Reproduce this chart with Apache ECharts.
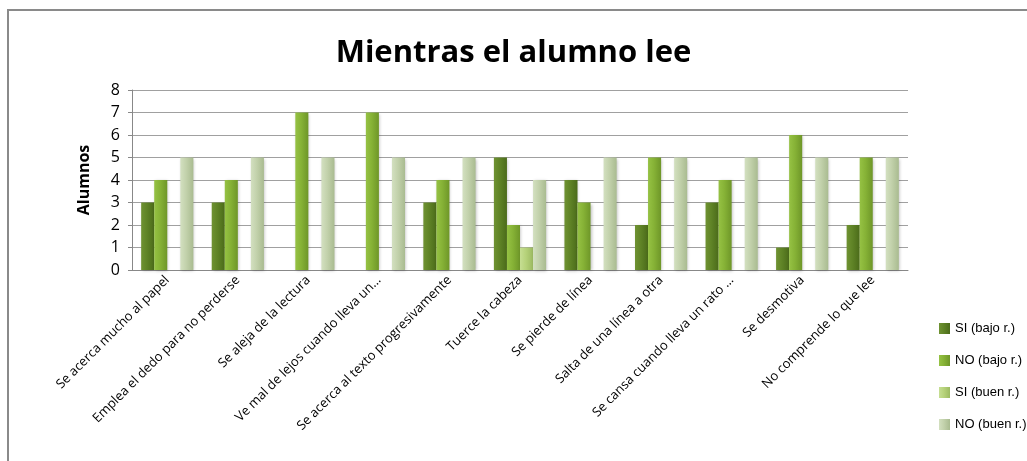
<!DOCTYPE html>
<html>
<head>
<meta charset="utf-8">
<script src="https://cdn.jsdelivr.net/npm/echarts@6/dist/echarts.min.js"></script>
<style>
  html, body { margin: 0; padding: 0; background: #fff; }
  #chart { width: 1027px; height: 461px; }
</style>
</head>
<body>
<div id="chart"></div>
<script>
  // datos
  var categorias = [
    'Se acerca mucho al papel',
    'Emplea el dedo para no perderse',
    'Se aleja de la lectura',
    'Ve mal de lejos cuando lleva un...',
    'Se acerca al texto progresivamente',
    'Tuerce la cabeza',
    'Se pierde de línea',
    'Salta de una línea a otra',
    'Se cansa cuando lleva un rato ...',
    'Se desmotiva',
    'No comprende lo que lee'
  ];
  var siBajo  = [3, 3, 0, 0, 3, 5, 4, 2, 3, 1, 2];
  var noBajo  = [4, 4, 7, 7, 4, 2, 3, 5, 4, 6, 5];
  var siBuen  = [0, 0, 0, 0, 0, 1, 0, 0, 0, 0, 0];
  var noBuen  = [5, 5, 5, 5, 5, 4, 5, 5, 5, 5, 5];
  var nombres = ['SI (bajo r.)', 'NO (bajo r.)', 'SI (buen r.)', 'NO (buen r.)'];
  var yTicks = [0, 8, 1];

  function grad(c1, c2, c3) {
    return new echarts.graphic.LinearGradient(0, 0, 1, 0, [
      { offset: 0, color: c1 },
      { offset: 0.45, color: c2 },
      { offset: 1, color: c3 }
    ]);
  }
  var colores = [
    grad('#6f9232', '#5f8326', '#4b6b1a'),
    grad('#96c244', '#86b236', '#6e9628'),
    grad('#c6de93', '#b6d27a', '#9cba62'),
    grad('#d3e0c0', '#c2d1ab', '#a9bb90')
  ];

  function serie(i, datos) {
    return {
      name: nombres[i],
      type: 'bar',
      data: datos,
      barGap: '0%',
      barCategoryGap: '26%',
      itemStyle: {
        color: colores[i],
        shadowColor: 'rgba(0,0,0,0.25)',
        shadowBlur: 3,
        shadowOffsetX: 1,
        shadowOffsetY: 1
      }
    };
  }

  var myChart = echarts.init(document.getElementById('chart'));
  var option = {
    animation: false,
    textStyle: { fontFamily: 'Open Sans' },
    title: {
      text: 'Mientras el alumno lee',
      left: 'center',
      top: 33,
      itemGap: 0,
      textStyle: { fontSize: 31, fontWeight: 'bold', color: '#000', fontFamily: 'Open Sans' }
    },
    graphic: [{
      type: 'rect',
      shape: { x: 8, y: 10, width: 1100, height: 500 },
      style: { fill: 'none', stroke: '#8a8a8a', lineWidth: 2 },
      silent: true
    }],
    legend: {
      orient: 'vertical',
      left: 939,
      top: 322,
      padding: 0,
      itemGap: 19,
      itemWidth: 11,
      itemHeight: 11,
      icon: 'rect',
      data: nombres,
      textStyle: { fontSize: 13, color: '#000', fontFamily: 'Liberation Sans' }
    },
    grid: { left: 132, right: 119, top: 90, bottom: 191 },
    xAxis: {
      type: 'category',
      data: categorias,
      axisLine: { lineStyle: { color: '#888', width: 1 } },
      axisTick: { show: false },
      axisLabel: {
        interval: 0,
        rotate: 45,
        fontSize: 13,
        color: '#000',
        margin: 8
      }
    },
    yAxis: {
      type: 'value',
      min: yTicks[0],
      max: yTicks[1],
      interval: yTicks[2],
      name: 'Alumnos',
      nameLocation: 'middle',
      nameGap: 40,
      nameTextStyle: { fontSize: 16, fontWeight: 'bold', color: '#000' },
      axisLine: { show: true, lineStyle: { color: '#888' } },
      axisTick: { show: true, length: 4, lineStyle: { color: '#888' } },
      axisLabel: { fontSize: 16, color: '#000', margin: 12 },
      splitLine: { lineStyle: { color: '#a0a0a0', width: 1 } }
    },
    series: [
      serie(0, siBajo),
      serie(1, noBajo),
      serie(2, siBuen),
      serie(3, noBuen)
    ]
  };
  myChart.setOption(option);
</script>
</body>
</html>
